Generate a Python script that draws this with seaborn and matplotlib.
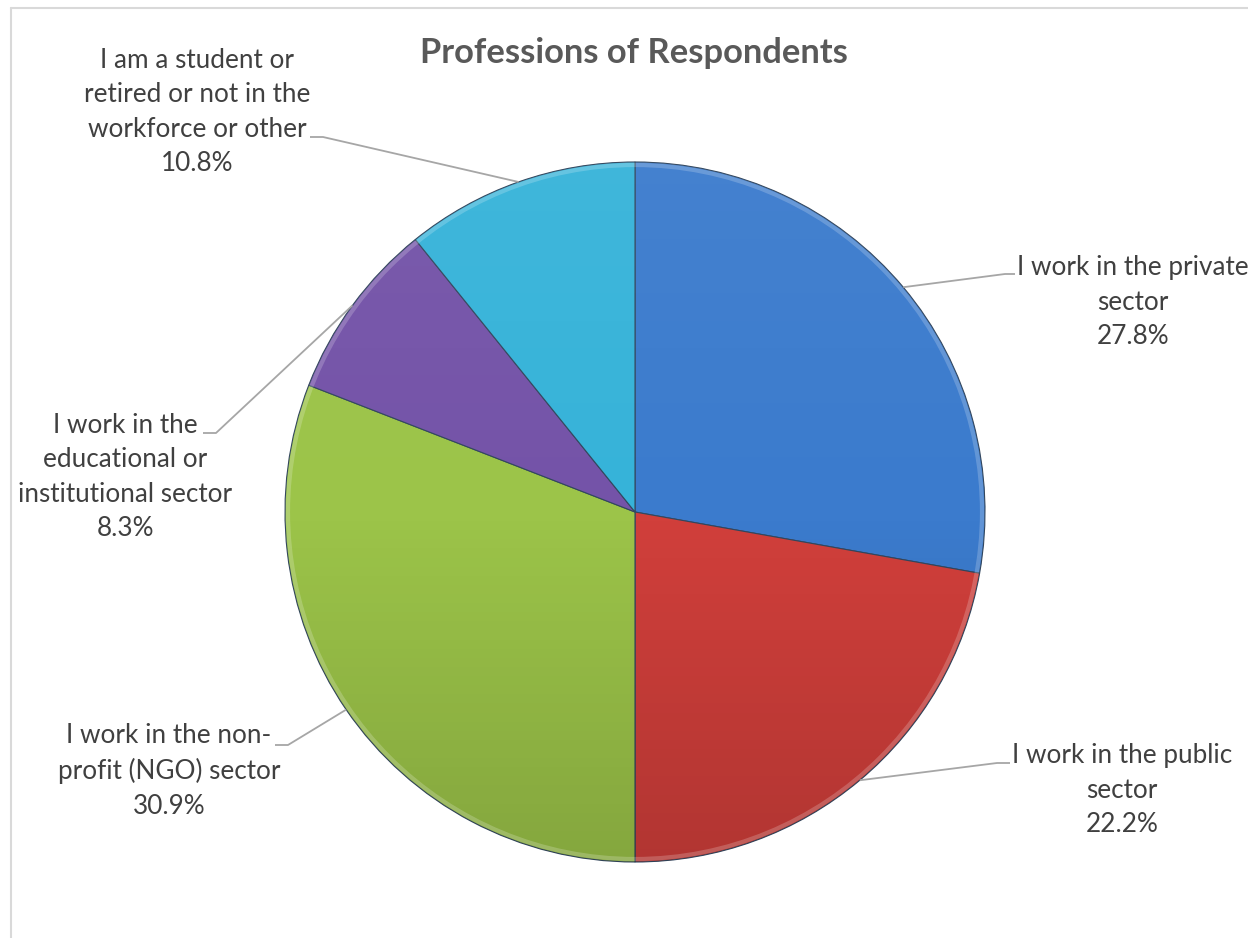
import numpy as np
import matplotlib
matplotlib.use("Agg")
import matplotlib.pyplot as plt
import seaborn as sns
from matplotlib.patches import Circle
from matplotlib.lines import Line2D

sns.set_theme(style="white")
plt.rcParams['font.family'] = ['Lato', 'DejaVu Sans']

# ---- data ----
categories = [
    "I work in the private\nsector",
    "I work in the public\nsector",
    "I work in the non-\nprofit (NGO) sector",
    "I work in the\neducational or\ninstitutional sector",
    "I am a student or\nretired or not in the\nworkforce or other",
]
shares = [27.8, 22.2, 30.9, 8.3, 10.8]
colors = sns.color_palette(["#3b7bcd", "#d13f3b", "#9cc449", "#7453a8", "#36b3d9"])
title = "Professions of Respondents"

W, H = 1248, 938
fig = plt.figure(figsize=(W / 100, H / 100), dpi=100)
ax = fig.add_axes([0, 0, 1, 1])

def py(y):
    return H - y

cx, cy, R = 635, py(512), 350
wedges, _ = ax.pie(shares, colors=colors, startangle=90, counterclock=False,
                   center=(cx, cy), radius=R, frame=True,
                   wedgeprops=dict(edgecolor="#33475e", linewidth=0.8))
ax.set_xlim(0, W)
ax.set_ylim(0, H)
ax.set_aspect('equal')
ax.axis('off')

# subtle vertical shading (slightly lighter top, darker bottom) clipped to the pie
t = np.linspace(0, 1, 256)
rgba = np.zeros((256, 1, 4))
rgba[:, 0, 0:3] = np.where(t[:, None] < 0.5, 1.0, 0.0)
rgba[:, 0, 3] = np.where(t < 0.5, (0.5 - t) * 0.10, (t - 0.5) * 0.30)
im = ax.imshow(rgba, extent=(cx - R, cx + R, cy - R, cy + R), origin='upper',
               aspect='auto', zorder=3, interpolation='bilinear')
clip = Circle((cx, cy), R, transform=ax.transData)
im.set_clip_path(clip)
ax.set_xlim(0, W)
ax.set_ylim(0, H)
# thin lighter rim
ax.add_patch(Circle((cx, cy), R - 3, fill=False, edgecolor="white", alpha=0.2,
                    linewidth=3, zorder=4))

# ---- labels with leader lines ----
text_color = "#404040"
line_color = "#a6a6a6"
# (text centre x, text centre y, leader elbow x, elbow y, horizontal end x)
label_layout = [
    (1133, 302, 1005, 274, 1015),
    (1122, 790, 997, 763, 1010),
    (169, 771, 288, 745, 275),
    (125, 477, 216, 433, 203),
    (197, 112, 323, 137, 310),
]
cum = np.concatenate([[0], np.cumsum(shares)])
total = cum[-1]
for i, (lab, val) in enumerate(zip(categories, shares)):
    mid = (cum[i] + cum[i + 1]) / 2 / total * 360.0
    ang = np.deg2rad(90 - mid)
    ex, ey = cx + R * np.cos(ang), cy + R * np.sin(ang)
    tx, ty, elx, ely, hx = label_layout[i]
    ax.plot([ex, elx, hx], [ey, py(ely), py(ely)], color=line_color, lw=1.3,
            zorder=5, solid_capstyle='butt')
    ax.text(tx, py(ty), f"{lab}\n{val:.1f}%", ha='center', va='center',
            fontsize=18.8, color=text_color, linespacing=1.47, zorder=6)

ax.text(634, py(53), title, ha='center', va='center', fontsize=24.8,
        fontweight='bold', color="#595959")

# chart frame (only left and top edges are visible; the rest is cropped)
fig.add_artist(Line2D([11 / W, 11 / W], [0, 1 - 8 / H], transform=fig.transFigure,
                      color="#d9d9d9", lw=1.5))
fig.add_artist(Line2D([11 / W, 1], [1 - 8 / H, 1 - 8 / H], transform=fig.transFigure,
                      color="#d9d9d9", lw=1.5))

fig.savefig("out.png", dpi=100, facecolor="white")
